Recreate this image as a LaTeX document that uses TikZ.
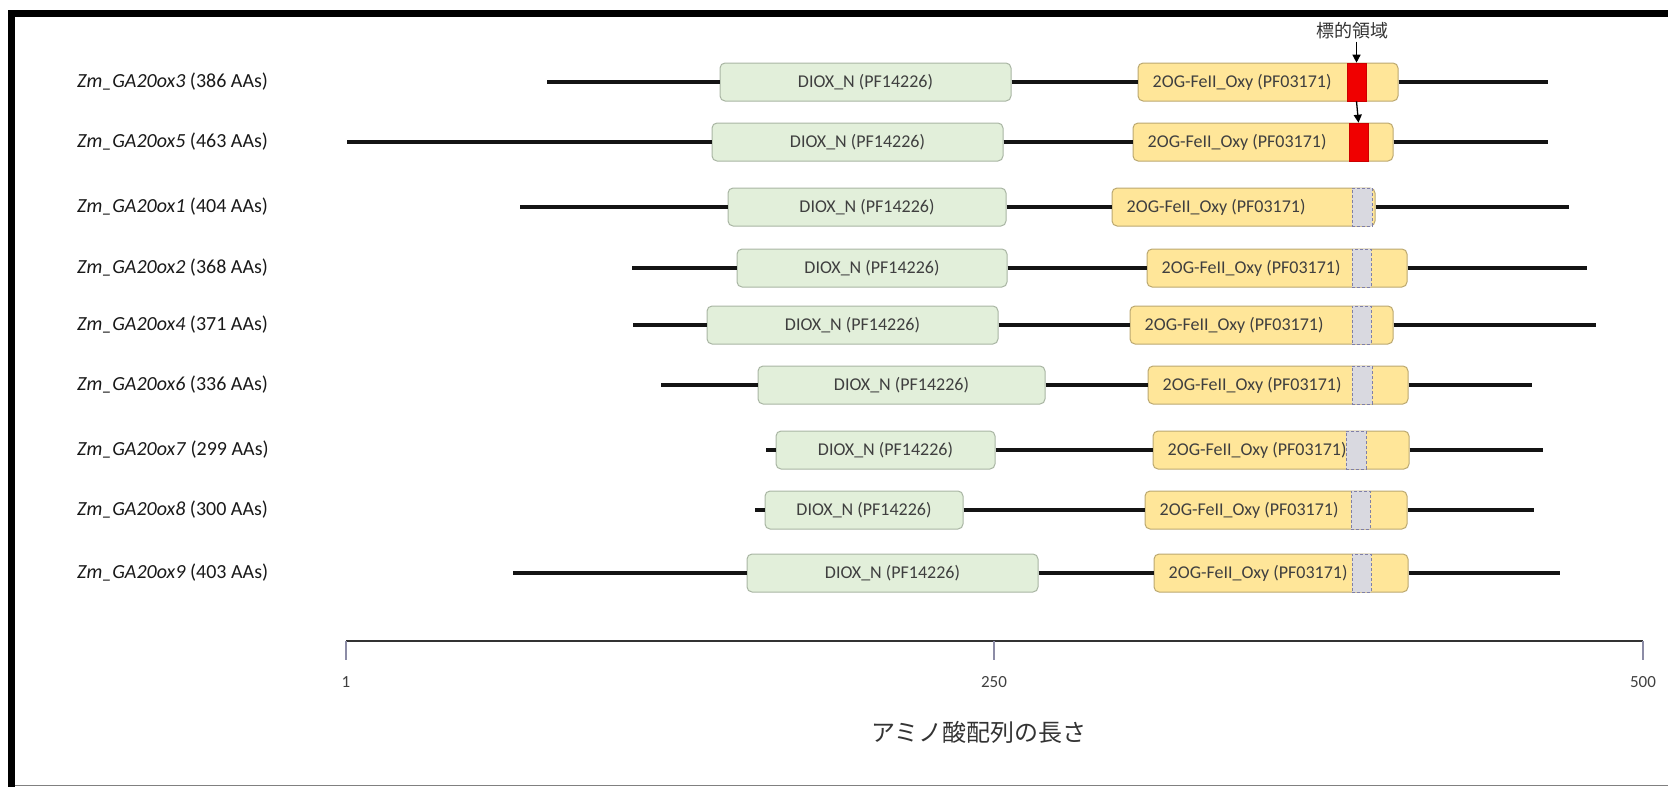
\documentclass[tikz,border=0pt]{standalone}
\usepackage{fontspec}
\setmainfont{Carlito}
\newfontfamily\jpfont{Noto Sans CJK JP}
\usetikzlibrary{arrows.meta}
\definecolor{dioxfill}{HTML}{E2EFDA}
\definecolor{dioxline}{HTML}{A9B5A3}
\definecolor{ogfill}{HTML}{FFE699}
\definecolor{ogline}{HTML}{BBA870}
\definecolor{redmark}{HTML}{F00000}
\definecolor{greyfill}{HTML}{D9D9E0}
\definecolor{greyline}{HTML}{7F7FA8}
\definecolor{boxtext}{HTML}{3F3F3F}
\definecolor{tickcol}{HTML}{8C8CA6}
\begin{document}
\begin{tikzpicture}[x=1pt,y=-1pt,
  lab/.style={anchor=west, inner sep=0pt, text=black!90, font=\fontsize{20}{24}\selectfont},
  dbox/.style={draw=dioxline, fill=dioxfill, rounded corners=5pt, line width=1pt, minimum height=38pt, inner sep=0pt, text=boxtext, font=\fontsize{18}{20}\selectfont},
  obox/.style={draw=ogline, fill=ogfill, rounded corners=5pt, line width=1pt, minimum height=38pt, inner sep=0pt},
  otext/.style={anchor=west, inner sep=0pt, text=boxtext, font=\fontsize{18}{20}\selectfont},
  mkred/.style={fill=redmark, draw=redmark!85!black, line width=0.6pt, minimum height=38pt, inner sep=0pt},
  mkgrey/.style={fill=greyfill, draw=greyline, dash pattern=on 3pt off 2pt, line width=1pt, minimum height=38pt, inner sep=0pt},
  backbone/.style={line width=4.5pt, black!92},
  axisline/.style={line width=2pt, black!80},
  axtick/.style={line width=1.5pt, tickcol},
  ticklab/.style={font=\fontsize{17}{20}\selectfont, text=black!75, inner sep=0pt},
  arr/.style={-{Triangle[length=8pt,width=8pt]}, line width=1.3pt, black}
]
\useasboundingbox (0,0) rectangle (1668,787);
% frame
\fill[black] (8,10) rectangle (1668,17);
\fill[black] (8,10) rectangle (15,787);
\draw[black!50, line width=1.5pt] (15,785.5) -- (1668,785.5);

\foreach \n/\yy/\len/\sx/\ex/\dl/\dr/\gl/\gr/\ml/\mr/\mt in {
  3/82/386/547/1548/720/1011/1138/1398/1347/1366/mkred,
  5/142/463/347/1548/712/1003/1133/1393/1349/1368/mkred,
  1/207/404/520/1569/728/1006/1112/1375/1352/1372/mkgrey,
  2/268/368/632/1587/737/1007/1147/1407/1352/1371/mkgrey,
  4/325/371/633/1596/707/998/1130/1393/1352/1371/mkgrey,
  6/385/336/661/1532/758/1045/1148/1408/1352/1372/mkgrey,
  7/450/299/766/1543/776/995/1153/1409/1346/1366/mkgrey,
  8/510/300/755/1534/765/963/1145/1407/1351/1370/mkgrey,
  9/573/403/513/1560/747/1038/1154/1408/1352/1371/mkgrey}{
  \node[lab] (l\n) at (77,\yy) {\textit{Zm\_GA20ox\n} (\len\ AAs)};
  \coordinate (s\n) at (\sx,\yy);
  \coordinate (e\n) at (\ex,\yy);
  \node[dbox, minimum width={(\dr-\dl)*1pt}] (d\n) at ({(\dl+\dr)/2},\yy) {DIOX\_N (PF14226)};
  \node[obox, minimum width={(\gr-\gl)*1pt}] (g\n) at ({(\gl+\gr)/2},\yy) {};
  \node[\mt, minimum width={(\mr-\ml)*1pt}] (m\n) at ({(\ml+\mr)/2},\yy) {};
  \node[otext] (t\n) at ([xshift=15pt]g\n.west) {2OG-FeII\_Oxy (PF03171)};
  \draw[backbone] (s\n) -- (d\n.west);
  \draw[backbone] (d\n.east) -- (g\n.west);
  \draw[backbone] (g\n.east) -- (e\n);
}

% target annotation
\node[font=\fontsize{18}{20}\selectfont\jpfont, text=black!80, inner sep=2pt] (tl) at (1352,31) {標的領域};
\draw[arr] (tl.south -| m3.north) -- (m3.north);
\draw[arr] (m3.south) -- (m5.north);

% axis
\coordinate (a1) at (346,641);
\coordinate (a250) at (994,641);
\coordinate (a500) at (1643,641);
\draw[axisline] (a1) -- (a500);
\draw[axtick] (a1) -- ++(0,19) coordinate (b1);
\draw[axtick] (a250) -- ++(0,19) coordinate (b250);
\draw[axtick] (a500) -- ++(0,19) coordinate (b500);
\node[ticklab] (n1) at (346,682) {1};
\node[ticklab] (n250) at (994,682) {250};
\node[ticklab] (n500) at (1643,682) {500};
\node[font=\fontsize{24}{26}\selectfont\jpfont, text=black!80] (title) at (979,732) {アミノ酸配列の長さ};
\end{tikzpicture}
\end{document}
